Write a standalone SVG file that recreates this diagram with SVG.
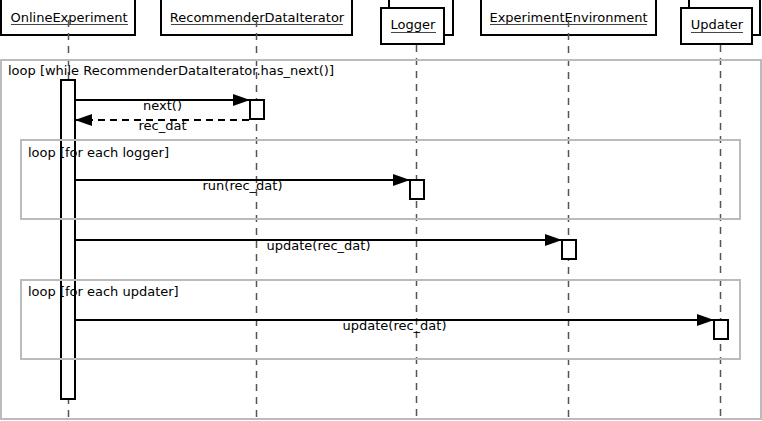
<svg xmlns="http://www.w3.org/2000/svg" width="762" height="421" viewBox="0 0 762 421">
<style>
text{font-family:"DejaVu Sans",sans-serif;font-size:13px;fill:#000}
.box{fill:#fff;stroke:#000;stroke-width:2}
.ul{stroke:#444;stroke-width:1}
.life{stroke:#555;stroke-width:1.5;stroke-dasharray:7,6;fill:none}
.frame{fill:none;stroke:#bbb;stroke-width:2}
.act{fill:#fff;stroke:#000;stroke-width:2}
.msg{stroke:#000;stroke-width:2;fill:none}
.ret{stroke:#000;stroke-width:2;fill:none;stroke-dasharray:7,5}
.mid{text-anchor:middle}
</style>
<defs>
<marker id="ah" viewBox="0 0 17 12" refX="17" refY="6" markerWidth="17" markerHeight="12" markerUnits="userSpaceOnUse" orient="auto">
<path d="M0,0 L17,6 L0,12 Z" fill="#000"/>
</marker>
</defs>
<g id="OnlineExperiment">
<rect class="box" x="1" y="-1" width="134" height="36"/>
<text class="mid" x="69" y="22">OnlineExperiment</text>
<line class="ul" x1="11" y1="24.5" x2="128" y2="24.5"/>
<line class="life" x1="68.5" y1="20" x2="68.5" y2="419"/>
<rect class="act" x="61" y="80" width="14" height="319"/>
</g>
<g id="RecommenderDataIterator">
<rect class="box" x="161" y="-1" width="191" height="36"/>
<text class="mid" x="257" y="22">RecommenderDataIterator</text>
<line class="ul" x1="171" y1="24.5" x2="343" y2="24.5"/>
<line class="life" x1="256.5" y1="20" x2="256.5" y2="419"/>
<rect class="act" x="250" y="100" width="14" height="19"/>
</g>
<g id="Logger">
<rect class="box" x="389" y="-1" width="64" height="36"/>
<rect class="box" x="381" y="8" width="63" height="36"/>
<text class="mid" x="413" y="29">Logger</text>
<line class="ul" x1="391" y1="32.5" x2="436" y2="32.5"/>
<line class="life" x1="416.5" y1="45" x2="416.5" y2="419"/>
<rect class="act" x="410" y="180" width="14" height="19"/>
</g>
<g id="ExperimentEnvironment">
<rect class="box" x="481" y="-1" width="175" height="36"/>
<text class="mid" x="568.5" y="22">ExperimentEnvironment</text>
<line class="ul" x1="490" y1="24.5" x2="647" y2="24.5"/>
<line class="life" x1="568.5" y1="20" x2="568.5" y2="419"/>
<rect class="act" x="562" y="240" width="14" height="19"/>
</g>
<g id="Updater">
<rect class="box" x="689" y="-1" width="71" height="36"/>
<rect class="box" x="681" y="8" width="71" height="36"/>
<text class="mid" x="717" y="29">Updater</text>
<line class="ul" x1="691" y1="32.5" x2="743" y2="32.5"/>
<line class="life" x1="720.5" y1="45" x2="720.5" y2="419"/>
<rect class="act" x="714" y="320" width="14" height="19"/>
</g>
<g id="frames">
<rect class="frame" x="1" y="60" width="760" height="359"/>
<text x="8" y="75">loop [while RecommenderDataIterator.has_next()]</text>
<rect class="frame" x="21" y="140" width="719" height="79"/>
<text x="28" y="157">loop [for each logger]</text>
<rect class="frame" x="21" y="280" width="719" height="79"/>
<text x="28" y="296">loop [for each updater]</text>
</g>
<g id="connectors">
<line class="msg" x1="76" y1="100" x2="250" y2="100" marker-end="url(#ah)"/>
<text class="mid" x="162.5" y="110">next()</text>
<line class="ret" x1="249" y1="120" x2="75" y2="120" marker-end="url(#ah)"/>
<text class="mid" x="162.5" y="130">rec_dat</text>
<line class="msg" x1="76" y1="180" x2="410" y2="180" marker-end="url(#ah)"/>
<text class="mid" x="242.5" y="190">run(rec_dat)</text>
<line class="msg" x1="76" y1="240" x2="562" y2="240" marker-end="url(#ah)"/>
<text class="mid" x="318.5" y="250">update(rec_dat)</text>
<line class="msg" x1="76" y1="320" x2="714" y2="320" marker-end="url(#ah)"/>
<text class="mid" x="394.5" y="330">update(rec_dat)</text>
</g>
</svg>
